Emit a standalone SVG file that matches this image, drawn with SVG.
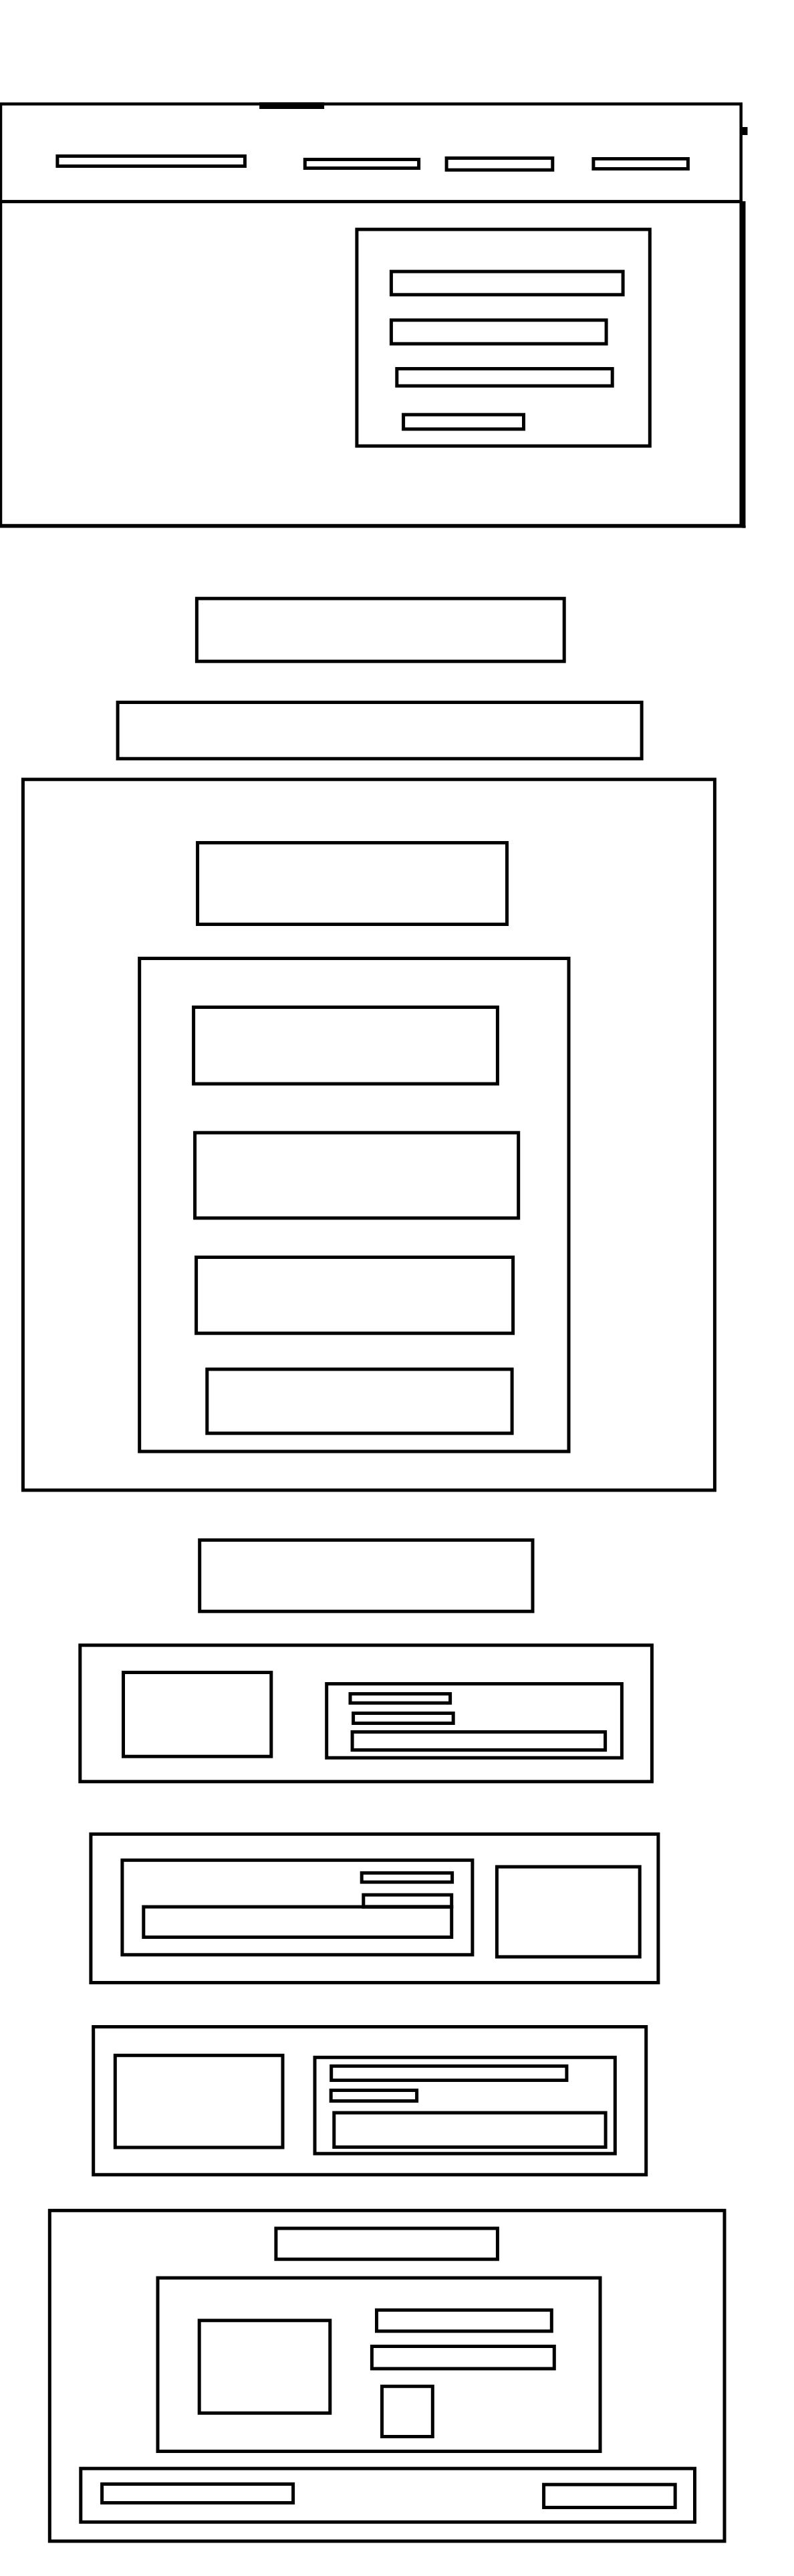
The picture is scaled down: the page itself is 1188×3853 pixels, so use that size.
<svg xmlns="http://www.w3.org/2000/svg" width="1188" height="3853" viewBox="0 0 1188 3853">
<style>
  rect.b { fill: none; stroke: #000; stroke-width: 5; }
  rect.h { fill: none; stroke: #000; stroke-width: 4.5; }
  .solid { fill: #000; stroke: none; }
</style>
<rect x="0" y="0" width="1188" height="3853" fill="#fff"/>
<g id="header">
  <rect class="h" x="1" y="155.5" width="1107.7" height="146"/>
  <rect class="solid" x="388.1" y="153" width="97" height="10"/>
  <rect class="solid" x="1110.5" y="190" width="8" height="12"/>
  <rect class="b" x="85.9" y="233.5" width="280.5" height="15"/>
  <rect class="b" x="456.3" y="238.5" width="170.3" height="13"/>
  <rect class="b" x="668.1" y="236.5" width="158.7" height="17.7"/>
  <rect class="b" x="887.9" y="237.5" width="141.5" height="15"/>
</g>
<g id="hero">
  <rect class="h" x="1" y="301.5" width="1107.7" height="484.5"/>
  <rect class="solid" x="1110.5" y="301" width="5" height="488.5"/>
  <rect class="solid" x="0" y="786" width="1115.5" height="3.5"/>
  <g id="hero-card">
    <rect class="b" x="533.9" y="343.1" width="438.4" height="324"/>
    <rect class="b" x="585.4" y="406.1" width="346.7" height="34.7"/>
    <rect class="b" x="585.4" y="478.8" width="321.7" height="35.4"/>
    <rect class="b" x="593.8" y="551.5" width="322.4" height="25.7"/>
    <rect class="b" x="603.6" y="620.2" width="179.9" height="21.6"/>
  </g>
</g>
<g id="title-a"><rect class="b" x="294.4" y="895.2" width="549.8" height="94"/></g>
<g id="title-b"><rect class="b" x="176.1" y="1050.5" width="784" height="84.3"/></g>
<g id="section-c">
  <rect class="b" x="34.4" y="1165.8" width="1035" height="1063.1"/>
  <rect class="b" x="295.6" y="1260.5" width="462.9" height="122"/>
  <g id="section-c-list">
    <rect class="b" x="208.7" y="1433.5" width="642.3" height="737.5"/>
    <rect class="b" x="289.6" y="1506.5" width="454.8" height="114.6"/>
    <rect class="b" x="291.6" y="1694.2" width="484.1" height="127.7"/>
    <rect class="b" x="293.6" y="1880.5" width="474" height="113.7"/>
    <rect class="b" x="309.8" y="2048" width="456.3" height="95.8"/>
  </g>
</g>
<g id="title-d"><rect class="b" x="298.7" y="2303.5" width="498.3" height="106.7"/></g>
<g id="card-e">
  <rect class="b" x="119.8" y="2460.8" width="855.6" height="204"/>
  <rect class="b" x="184.5" y="2501.5" width="221.3" height="125.7"/>
  <rect class="b" x="488.7" y="2518.5" width="441.7" height="110.7"/>
  <rect class="b" x="524" y="2533.5" width="149.6" height="13.7"/>
  <rect class="b" x="528.6" y="2562.5" width="149.6" height="15"/>
  <rect class="b" x="527.1" y="2590.5" width="378.5" height="27"/>
</g>
<g id="card-f">
  <rect class="b" x="135.9" y="2743.3" width="849" height="222.2"/>
  <rect class="b" x="182.9" y="2782.3" width="524" height="141.5"/>
  <rect class="b" x="541.2" y="2801.4" width="135.4" height="13.7"/>
  <rect class="b" x="543.8" y="2834.2" width="131.9" height="17.9"/>
  <rect class="b" x="214.8" y="2852.1" width="460.9" height="45.4"/>
  <rect class="b" x="743.4" y="2792.2" width="213.8" height="134.7"/>
</g>
<g id="card-g">
  <rect class="b" x="139.7" y="3031.5" width="827" height="221.3"/>
  <rect class="b" x="172.3" y="3074.3" width="250.7" height="137.7"/>
  <rect class="b" x="471" y="3077.3" width="449.3" height="143.9"/>
  <rect class="b" x="495.7" y="3090.3" width="352.2" height="21.2"/>
  <rect class="b" x="495.2" y="3126.5" width="128.4" height="16"/>
  <rect class="b" x="499.8" y="3160.1" width="406.3" height="51.4"/>
</g>
<g id="section-h">
  <rect class="b" x="74.3" y="3306.3" width="1009.7" height="494.6"/>
  <rect class="b" x="412.9" y="3333" width="331.5" height="46.2"/>
  <g id="section-h-body">
    <rect class="b" x="236" y="3407.1" width="662" height="259.4"/>
    <rect class="b" x="298.2" y="3470.8" width="195.6" height="138.5"/>
    <rect class="b" x="563.5" y="3455.2" width="261.8" height="31.6"/>
    <rect class="b" x="556.4" y="3509.5" width="272.9" height="33.4"/>
    <rect class="b" x="571.5" y="3569.3" width="75.8" height="75.2"/>
  </g>
  <g id="section-h-footer">
    <rect class="b" x="120.8" y="3692.2" width="918.7" height="80.1"/>
    <rect class="b" x="152.6" y="3715.5" width="286" height="28"/>
    <rect class="b" x="813.6" y="3716.2" width="196.6" height="34.3"/>
  </g>
</g>
<g id="connectors"/>
</svg>
